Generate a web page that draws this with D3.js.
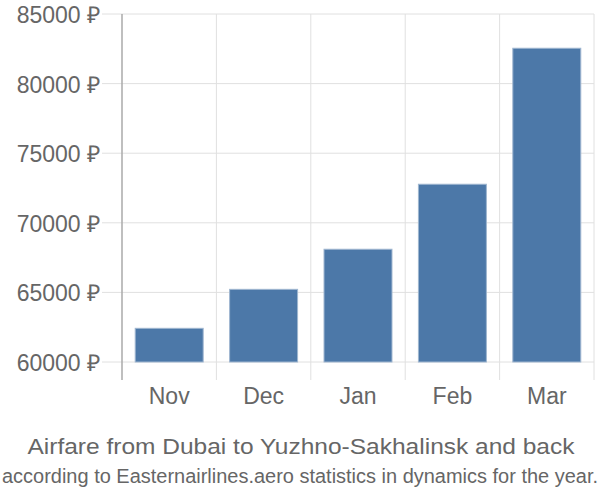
<!DOCTYPE html>
<html>
<head>
<meta charset="utf-8">
<script src="https://cdn.jsdelivr.net/npm/d3@7"></script>
<style>
body{margin:0;background:#fff;}
svg text{font-family:"Liberation Sans",Arial,sans-serif;fill:#666;}
</style>
</head>
<body>
<svg id="chart" width="600" height="500"></svg>
<script>
const months = ["Nov","Dec","Jan","Feb","Mar"];
const prices = [62420, 65220, 68100, 72770, 82540];
const yTicks = [60000, 65000, 70000, 75000, 80000, 85000];
const titleLines = ["Airfare from Dubai to Yuzhno-Sakhalinsk and back",
  "according to Easternairlines.aero statistics in dynamics for the year."];

(function(){
const svg = d3.select("#chart");
const pLeft = 122, pRight = 594, pTop = 14, pBase = 362, axisBottom = 380;

const x = d3.scaleBand().domain(months).range([pLeft, pRight]).paddingInner(0.28).paddingOuter(0.14);
const xb = d3.scaleBand().domain(months).range([pLeft, pRight]);
const y = d3.scaleLinear().domain([60000, 85000]).range([pBase, pTop]);

svg.append("g").selectAll("line").data(yTicks).join("line")
  .attr("x1", 102).attr("x2", pRight)
  .attr("y1", d => y(d)).attr("y2", d => y(d))
  .attr("stroke", "#e0e0e0").attr("stroke-width", 1);

svg.append("g").selectAll("line").data(months).join("line")
  .attr("x1", d => xb(d) + xb.bandwidth()).attr("x2", d => xb(d) + xb.bandwidth())
  .attr("y1", pTop).attr("y2", axisBottom)
  .attr("stroke", "#e0e0e0").attr("stroke-width", 1);

svg.append("g").selectAll("rect").data(months).join("rect")
  .attr("x", d => x(d))
  .attr("width", x.bandwidth())
  .attr("y", (d, i) => y(prices[i]))
  .attr("height", (d, i) => y(60000) - y(prices[i]))
  .attr("fill", "#4c78a8")
  .attr("stroke", "#9fb6d0").attr("stroke-width", 1);

svg.append("line").attr("x1", pLeft).attr("x2", pLeft).attr("y1", pTop).attr("y2", axisBottom)
  .attr("stroke", "#aaa").attr("stroke-width", 1.5);

const yAxis = d3.axisLeft(y).tickValues(yTicks).tickSize(0).tickPadding(0)
  .tickFormat(d => d + " ₽");
const ga = svg.append("g").attr("transform", "translate(100,0)").call(yAxis);
ga.select(".domain").remove();
ga.selectAll("text").style("font-size", "23px").attr("fill", "#666").attr("dy", "0.37em");

const xAxis = d3.axisBottom(xb).tickSize(0).tickPadding(0);
const gx = svg.append("g").attr("transform", "translate(0,404)").call(xAxis);
gx.select(".domain").remove();
gx.selectAll("text").style("font-size", "23px").attr("fill", "#666").attr("dy", "0");

svg.append("text").attr("x", 301).attr("y", 454).attr("text-anchor", "middle")
  .style("font-size", "22px")
  .attr("textLength", 547).attr("lengthAdjust", "spacingAndGlyphs")
  .text(titleLines[0]);
svg.append("text").attr("x", 300).attr("y", 483).attr("text-anchor", "middle")
  .style("font-size", "20px")
  .attr("textLength", 596).attr("lengthAdjust", "spacingAndGlyphs")
  .text(titleLines[1]);
})();
</script>
</body>
</html>
